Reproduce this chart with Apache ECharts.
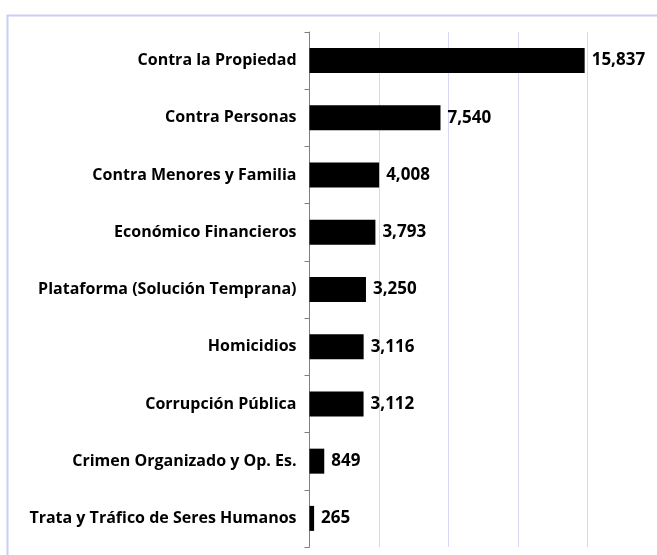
<!DOCTYPE html>
<html><head><meta charset="utf-8">
<script src="https://cdn.jsdelivr.net/npm/echarts@6/dist/echarts.min.js"></script>
<style>html,body{margin:0;padding:0;background:#fff}#c{width:657px;height:555px}</style>
</head><body><div id="c"></div>
<script>
const categories = ["Contra la Propiedad","Contra Personas","Contra Menores y Familia","Económico Financieros","Plataforma (Solución Temprana)","Homicidios","Corrupción Pública","Crimen Organizado y Op. Es.","Trata y Tráfico de Seres Humanos"];
const values = [15837, 7540, 4008, 3793, 3250, 3116, 3112, 849, 265];
const xTicks = [0, 4000, 8000, 12000, 16000, 20000];

const chart = echarts.init(document.getElementById('c'), null, {renderer:'canvas'});
const font = '"Open Sans", "Liberation Sans", sans-serif';
chart.setOption({
  animation:false,
  graphic:[{type:'rect', shape:{x:7.5,y:15.5,width:700,height:600}, style:{fill:'none', stroke:'#ccccf5', lineWidth:2}, z:-1}],
  grid:{left:309.5, top:32, width:353, height:515, containLabel:false},
  xAxis:{type:'value', min:xTicks[0], max:xTicks[xTicks.length-1], interval:4000,
    axisLine:{show:false}, axisTick:{show:false}, axisLabel:{show:false},
    splitLine:{show:true, lineStyle:{color:'#d6d6f5', width:1}}},
  yAxis:{type:'category', data:categories, inverse:true,
    axisLine:{show:true, lineStyle:{color:'#7f7f7f', width:1}},
    axisTick:{show:true, length:5, lineStyle:{color:'#7f7f7f'}},
    axisLabel:{color:'#000', fontWeight:'bold', fontSize:16, fontFamily:font, margin:13}},
  series:[{type:'bar', data:values, barWidth:25, itemStyle:{color:'#000'},
    label:{show:true, position:'right', distance:7, color:'#000', fontWeight:'bold', fontSize:17, fontFamily:font,
      formatter:p=>p.value.toLocaleString('en-US')}}]
});
</script></body></html>
